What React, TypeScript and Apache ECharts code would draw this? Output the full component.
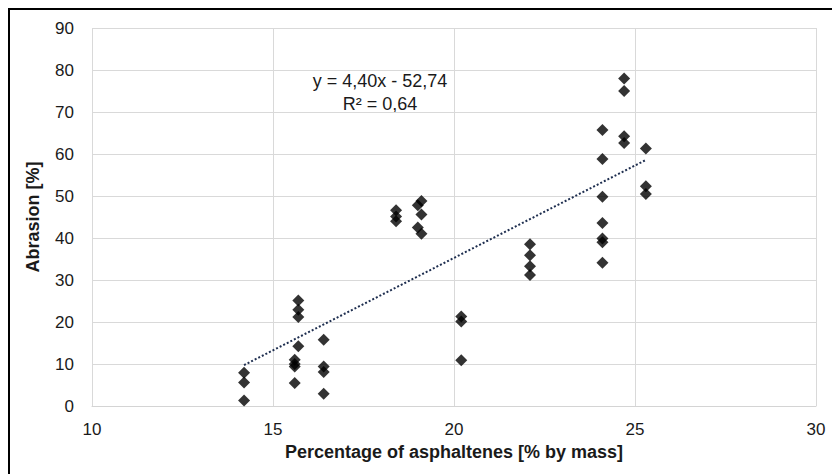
import React, { useEffect, useRef } from "react";
import * as echarts from "echarts";

const asphaltenes: number[] = [
  14.2, 14.2, 14.2,
  15.7, 15.7, 15.7, 15.7,
  15.6, 15.6, 15.6, 15.6,
  16.4, 16.4, 16.4, 16.4,
  18.4, 18.4, 18.4,
  19.0, 19.1, 19.1, 19.0, 19.1,
  20.2, 20.2, 20.2,
  22.1, 22.1, 22.1, 22.1,
  24.1, 24.1, 24.1, 24.1, 24.1, 24.1, 24.1,
  24.7, 24.7, 24.7, 24.7,
  25.3, 25.3, 25.3,
];
const abrasion: number[] = [
  7.9, 5.6, 1.3,
  25.1, 22.9, 21.2, 14.2,
  11.0, 10.0, 9.4, 5.5,
  15.8, 9.4, 8.1, 2.9,
  46.6, 45.1, 44.0,
  47.8, 48.8, 45.6, 42.5, 41.0,
  21.3, 20.1, 10.9,
  38.5, 35.9, 33.3, 31.2,
  65.7, 58.8, 49.8, 43.6, 39.9, 39.0, 34.1,
  78.0, 75.0, 64.2, 62.6,
  61.3, 52.3, 50.5,
];
const trendSlope = 4.4;
const trendIntercept = -52.74;
const trendRange: number[] = [14.2, 25.3];
const equationLines: string[] = ["y = 4,40x - 52,74", "R² = 0,64"];
const xTitle = "Percentage of asphaltenes [% by mass]";
const yTitle = "Abrasion [%]";

export default function App() {
  const ref = useRef<HTMLDivElement>(null);
  useEffect(() => {
    if (!ref.current) return;
    const chart = echarts.init(ref.current, undefined, { renderer: "svg" });
    const scatterData = asphaltenes.map((x, i) => [x, abrasion[i]]);
    const trendData = trendRange.map((x) => [x, trendSlope * x + trendIntercept]);
    const font = "'Liberation Sans', Arial, sans-serif";
    chart.setOption({
      animation: false,
      grid: { left: 92, right: 16, top: 28, bottom: 68 },
      xAxis: {
        type: "value",
        min: 10,
        max: 30,
        interval: 5,
        name: xTitle,
        nameLocation: "middle",
        nameGap: 27,
        nameTextStyle: { fontFamily: font, fontSize: 18, fontWeight: "bold", color: "#1a1a1a" },
        axisLine: { show: true, lineStyle: { color: "#d4d4d4", width: 1 } },
        axisTick: { show: false },
        axisLabel: { fontFamily: font, fontSize: 17, color: "#1a1a1a", margin: 15 },
        splitLine: { show: true, lineStyle: { color: "#d9d9d9", width: 1 } },
      },
      yAxis: {
        type: "value",
        min: 0,
        max: 90,
        interval: 10,
        name: yTitle,
        nameLocation: "middle",
        nameGap: 50,
        nameTextStyle: { fontFamily: font, fontSize: 18, fontWeight: "bold", color: "#1a1a1a" },
        axisLine: { show: false },
        axisTick: { show: false },
        axisLabel: { fontFamily: font, fontSize: 17, color: "#1a1a1a", margin: 18 },
        splitLine: { show: true, lineStyle: { color: "#d9d9d9", width: 1 } },
      },
      series: [
        {
          type: "line",
          data: trendData,
          symbol: "none",
          lineStyle: { color: "#1f2f50", width: 2, type: [2, 2] },
          z: 2,
        },
        {
          type: "scatter",
          data: scatterData,
          symbol: "diamond",
          symbolSize: 12,
          itemStyle: { color: "#000000" },
          z: 3,
        },
      ],
      graphic: [
        {
          type: "text",
          x: 380,
          y: 69,
          style: {
            text: equationLines.join("\n"),
            fontFamily: font,
            fontSize: 18,
            lineHeight: 23,
            fill: "#1a1a1a",
            align: "center",
            verticalAlign: "top",
          },
        },
      ],
    });
    return () => chart.dispose();
  }, []);
  return (
    <div
      style={{
        position: "fixed",
        left: 0,
        top: 0,
        width: 832,
        height: 474,
        overflow: "hidden",
        background: "#fff",
      }}
    >
      <div ref={ref} style={{ position: "absolute", left: 0, top: 0, width: 832, height: 474 }} />
      <div
        style={{
          position: "absolute",
          left: 8,
          top: 8,
          width: 1000,
          height: 1000,
          borderLeft: "2px solid #000",
          borderTop: "2px solid #000",
          boxSizing: "border-box",
          pointerEvents: "none",
        }}
      />
    </div>
  );
}
